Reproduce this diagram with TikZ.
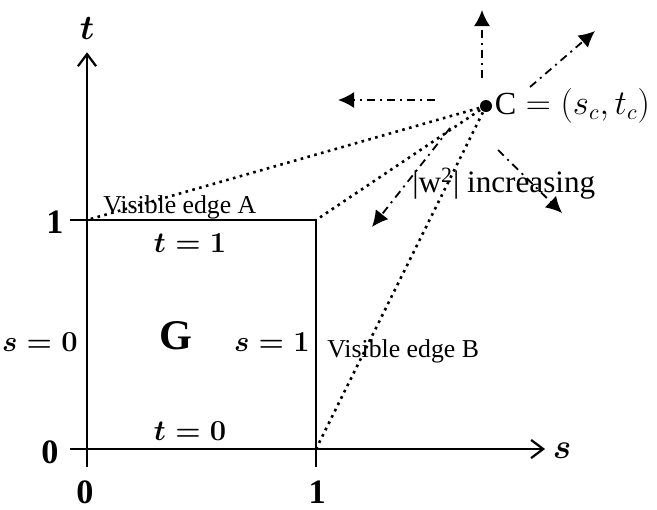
\documentclass[tikz,border=0pt]{standalone}
\usepackage{fontspec}
\setmainfont{Liberation Serif}
\usepackage{tikz}
\usetikzlibrary{positioning,arrows.meta}

\begin{document}
\begin{tikzpicture}[
axis/.style={line width=1.1pt,-{Straight Barb[length=6pt,width=9pt]}},
edge/.style={line width=1.1pt},
ray/.style={line width=1.3pt,dash pattern=on 1.3pt off 2.2pt},
dir/.style={line width=0.9pt,dash pattern=on 4pt off 2.5pt on 1pt off 2.5pt,
-{Latex[length=8pt,width=8pt]}},
mlabel/.style={font=\fontsize{13.5}{15}\selectfont\boldmath},
num/.style={font=\fontsize{17}{19}\selectfont\bfseries},
txt/.style={font=\fontsize{12.8}{15}\selectfont,inner sep=0pt},
point/.style={circle,fill,inner sep=0pt,minimum size=0.21cm}
]
\useasboundingbox (-1.520,-1.048) rectangle (9.956,7.843);

% corners of G and axis ends
\coordinate (O) at (0,0);
\coordinate (A) at (0,4);
\coordinate (B) at (4,4);
\coordinate (D) at (4,0);
\coordinate (sfrom) at (-0.30,0);
\coordinate (sto) at (8.0,0);
\coordinate (tfrom) at (0,-0.31);
\coordinate (tto) at (0,6.93);
\coordinate (afrom) at (-0.30,4);
\coordinate (dfrom) at (4,-0.31);

\draw[axis] (sfrom) -- (sto);
\draw[axis] (tfrom) -- (tto);
\draw[edge] (afrom) -- (B) -- (dfrom);

\node[font=\fontsize{18}{19}\selectfont\boldmath] (tlab) at (0,7.35) {$t$};
\node[font=\fontsize{18}{19}\selectfont\boldmath] (slab) at (8.30,-0.03) {$s$};
\node[num] (one1) at (-0.56,3.965) {1};
\node[num] (zero1) at (-0.646,-0.05) {0};
\node[num] (zero2) at (-0.035,-0.76) {0};
\node[num] (one2) at (4.02,-0.76) {1};

\node[mlabel,anchor=east,inner sep=0pt] (s0) at (-0.157,1.869) {$s=0$};
\node[mlabel,anchor=east,inner sep=0pt] (s1) at (3.895,1.869) {$s=1$};
\node[mlabel] (t1) at (1.80,3.598) {$t=1$};
\node[mlabel] (t0) at (1.80,0.314) {$t=0$};
\node[font=\fontsize{21}{22}\selectfont\bfseries] (G) at (1.555,1.974) {G};

% the point C and the rays to the corners
\node[point] (C) at (6.969,5.991) {};
\node[right=1pt of C,inner sep=0pt,font=\fontsize{16}{18}\selectfont] (Clab)
{$\mathrm{C}=(s_c,t_c)$};

\draw[ray] (C.center) -- (A);
\draw[ray] (C.center) -- (B);
\draw[ray] (C.center) -- (D);

\node[txt,anchor=base west] (visA) at (0.279,4.122) {Visible edge A};
\node[txt,anchor=base west] (visB) at (4.192,1.607) {Visible edge B};
\node[txt,anchor=base west,font=\fontsize{15.5}{17}\selectfont] (incr)
at (5.677,4.472) {|w\textsuperscript{2}| increasing};

% directions of increasing |w^2|
\coordinate (up0) at (6.899,6.480);
\coordinate (up1) at (6.899,7.668);
\coordinate (lf0) at (6.079,6.096);
\coordinate (lf1) at (4.384,6.096);
\coordinate (ur0) at (7.738,6.323);
\coordinate (ur1) at (8.873,7.301);
\coordinate (dl0) at (6.341,5.607);
\coordinate (dl1) at (4.978,3.878);
\coordinate (dr0) at (7.179,5.223);
\coordinate (dr1) at (8.297,4.122);

\draw[dir] (up0) -- (up1);
\draw[dir] (lf0) -- (lf1);
\draw[dir] (ur0) -- (ur1);
\draw[dir] (dl0) -- (dl1);
\draw[dir] (dr0) -- (dr1);

\end{tikzpicture}
\end{document}
